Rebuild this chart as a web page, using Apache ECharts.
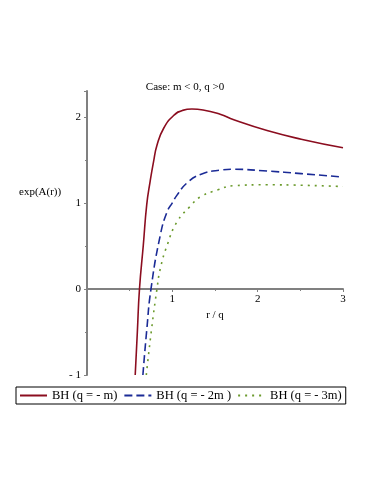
<!DOCTYPE html>
<html>
<head>
<meta charset="utf-8">
<script src="https://cdn.jsdelivr.net/npm/echarts@6/dist/echarts.min.js"></script>
<style>
html, body { margin: 0; padding: 0; background: #fff; }
#main { width: 374px; height: 484px; }
</style>
</head>
<body>
<div id="main"></div>
<script>
// points: [r/q, exp(A(r))]
var bh1 = [[0.565,-1],[0.59,-0.5],[0.615,0],[0.66,0.51],[0.70,0.98],[0.74,1.25],[0.78,1.48],[0.82,1.67],[0.90,1.87],
           [1.02,2.02],[1.12,2.075],[1.23,2.09],[1.36,2.08],[1.56,2.03],[1.72,1.965],[2.11,1.84],[2.51,1.74],[3.0,1.64]];
var bh2 = [[0.655,-1],[0.70,-0.48],[0.75,0],[0.86,0.63],[0.94,0.90],[1.0,1.0],[1.055,1.09],[1.17,1.23],
           [1.33,1.33],[1.56,1.38],[1.72,1.39],[2.11,1.37],[2.51,1.34],[3.0,1.30]];
var bh3 = [[0.695,-1],[0.755,-0.48],[0.82,0],[0.86,0.24],[0.94,0.51],[1.055,0.78],[1.21,0.96],[1.33,1.07],
           [1.53,1.15],[1.72,1.20],[2.11,1.21],[2.51,1.205],[3.0,1.19]];
var names = ['BH (q = - m)', 'BH (q = - 2m )', 'BH (q = - 3m)'];
var colors = ['#8b0d1f', '#1b2b96', '#6b9a2c'];
var dashes = ['solid', [8, 4], [2, 5]];

var chart = echarts.init(document.getElementById('main'));
var serif = 'Liberation Serif';
var axisGray = '#808080';

var series = [bh1, bh2, bh3].map(function (d, i) {
    return {
        name: names[i],
        type: 'line',
        data: d,
        smooth: 0.5,
        symbol: 'none',
        clip: true,
        lineStyle: { color: colors[i], width: 1.6, type: dashes[i] },
        itemStyle: { color: colors[i] }
    };
});

var option = {
    animation: false,
    title: [{
        text: 'Case: m < 0, q >0',
        left: 180, textAlign: 'center', top: 77,
        textStyle: { fontFamily: serif, fontSize: 11, fontWeight: 'normal', color: '#000' }
    }, {
        // y axis caption sits left of the axis, above the middle
        text: 'exp(A(r))',
        left: 14, top: 182,
        textStyle: { fontFamily: serif, fontSize: 11, fontWeight: 'normal', color: '#000' }
    }],
    grid: { left: 87, right: 31, top: 91, bottom: 109, containLabel: false },
    xAxis: {
        type: 'value', min: 0, max: 3, interval: 1,
        name: 'r / q', nameLocation: 'middle', nameGap: 21,
        nameTextStyle: { fontFamily: serif, fontSize: 11, color: '#000' },
        // axis drawn at y = 0 together with its labels
        axisLine: { onZero: false, lineStyle: { color: axisGray, width: 2 } },
        offset: -86,
        axisTick: { show: true, length: 3, lineStyle: { color: axisGray } },
        minorTick: { show: true, splitNumber: 2, length: 2, lineStyle: { color: axisGray } },
        axisLabel: {
            fontFamily: serif, fontSize: 11, color: '#000', margin: 5,
            formatter: function (v) { return v === 0 ? '' : v; }
        },
        splitLine: { show: false }
    },
    yAxis: {
        type: 'value', min: -1, max: 2.3, interval: 1,
        axisLine: { onZero: false, lineStyle: { color: axisGray, width: 2 } },
        axisTick: { show: true, length: 3, lineStyle: { color: axisGray } },
        minorTick: { show: true, splitNumber: 2, length: 2, lineStyle: { color: axisGray } },
        axisLabel: {
            fontFamily: serif, fontSize: 11, color: '#000', margin: 6,
            formatter: function (v) { return v === -1 ? '- 1' : v; },
            showMaxLabel: false
        },
        splitLine: { show: false }
    },
    legend: {
        data: names,
        left: 16, top: 387,
        orient: 'horizontal',
        borderColor: '#000', borderWidth: 1, borderRadius: 0,
        padding: [2, 4, 2, 3],
        itemWidth: 27, itemHeight: 10, itemGap: 6,
        itemStyle: { opacity: 0 },
        textStyle: { fontFamily: serif, fontSize: 12.5, color: '#000' }
    },
    series: series
};
chart.setOption(option);
</script>
</body>
</html>
